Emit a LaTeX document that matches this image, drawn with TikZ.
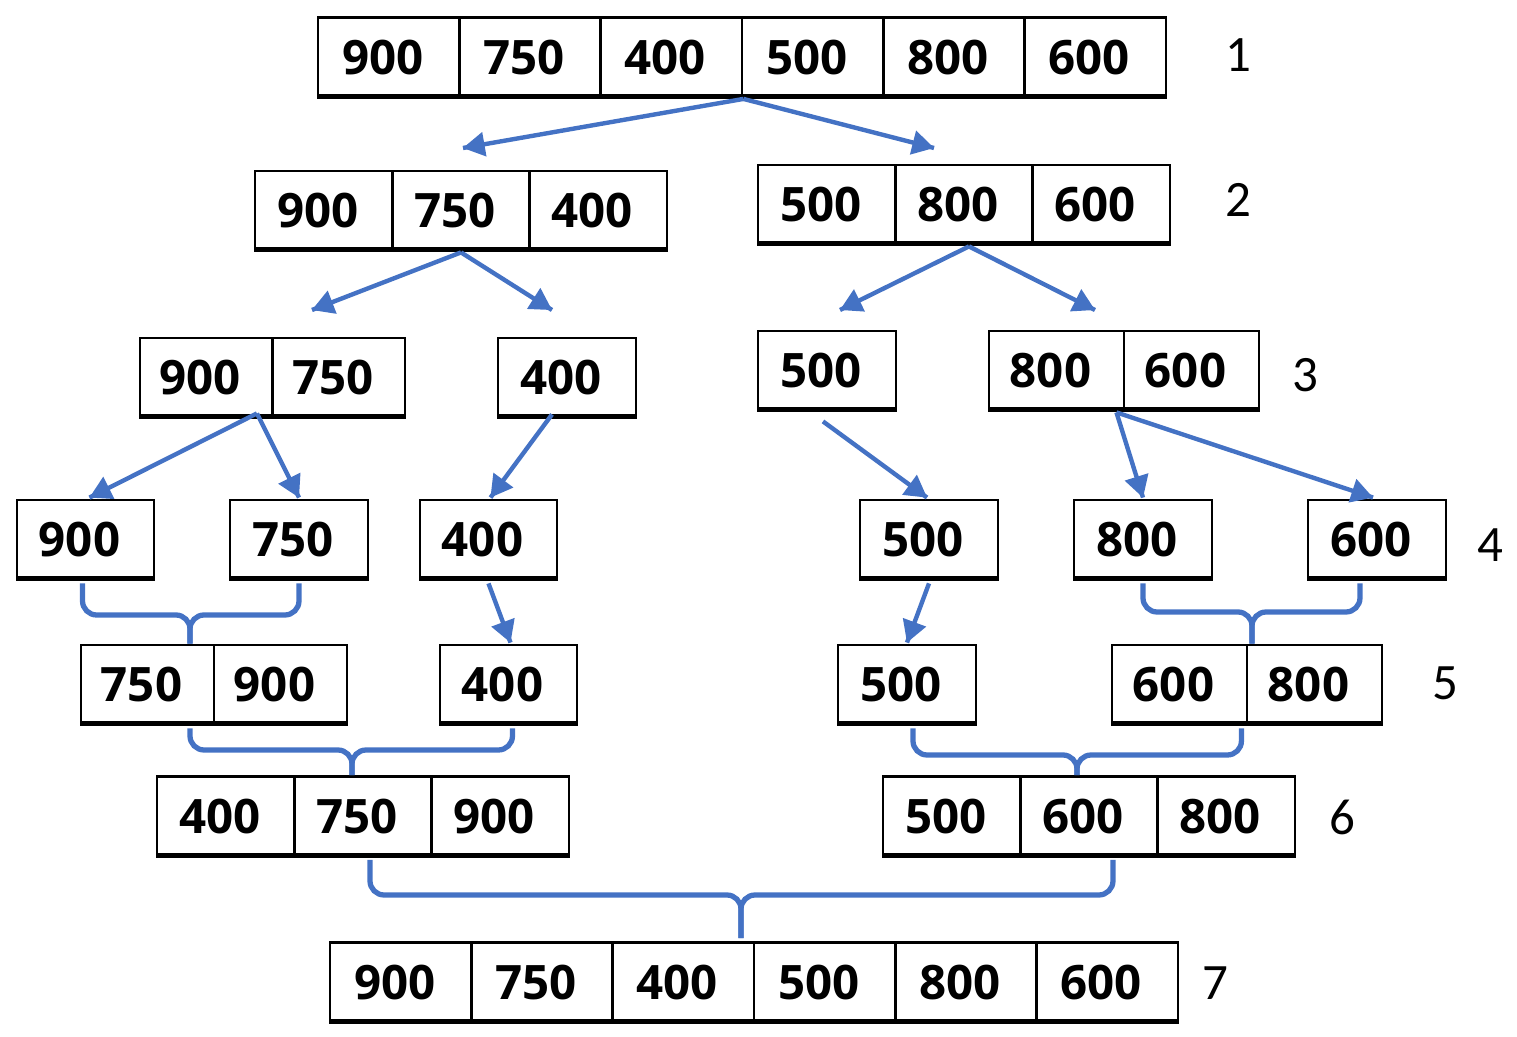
\documentclass[tikz,border=0pt]{standalone}
\usepackage{fontspec}
\setmainfont{Open Sans}
\newfontfamily\levelfont{Carlito}
\usepackage{tikz}
\usetikzlibrary{arrows}
\usetikzlibrary{decorations.markings}
\usetikzlibrary{positioning}
\usetikzlibrary{calc}
\tikzset{->/.style = {decoration={markings,
                                  mark=at position 1 with {\arrow[scale=0.75]{triangle 60}}},
                      postaction={decorate}}}
\tikzset{cell/.style = {draw, line width=0.8pt, inner sep=0pt, minimum height=0.8cm,
                        font=\bfseries\fontsize{13.5}{16}\selectfont,
                        execute at end node={\kern0.12cm},
                        path picture={\draw [line width=2pt]
                          (path picture bounding box.south west) --
                          (path picture bounding box.south east);}}}
\tikzset{split/.style = {mblue, line width=1.25pt}}
\tikzset{merge/.style = {mblue, line width=1.5pt, rounded corners=4pt}}
\tikzset{level/.style = {font=\levelfont\fontsize{14.5}{17}\selectfont}}
\definecolor{mblue}{RGB}{68, 114, 196}

\begin{document}
\begin{tikzpicture}[x=0.01cm, y=-0.01cm]
    \useasboundingbox (0, 0) rectangle (1517, 1037);

    % level 1
    \foreach \v [count=\i] in {900, 750, 400, 500, 800, 600}
      \node [cell, minimum width=1.413cm] (r1-\i) at ({318 + 141.33*(\i - 0.5)}, 57.5) {\v};

    % level 2
    \foreach \v [count=\i] in {900, 750, 400}
      \node [cell, minimum width=1.373cm] (r2a-\i) at ({255 + 137.33*(\i - 0.5)}, 211) {\v};
    \foreach \v [count=\i] in {500, 800, 600}
      \node [cell, minimum width=1.373cm] (r2b-\i) at ({758 + 137.33*(\i - 0.5)}, 205) {\v};

    % level 3
    \foreach \v [count=\i] in {900, 750}
      \node [cell, minimum width=1.325cm] (r3a-\i) at ({140 + 132.5*(\i - 0.5)}, 378) {\v};
    \node [cell, minimum width=1.38cm] (r3b) at (567, 378) {400};
    \node [cell, minimum width=1.38cm] (r3c) at (827, 371) {500};
    \foreach \v [count=\i] in {800, 600}
      \node [cell, minimum width=1.35cm] (r3d-\i) at ({989 + 135*(\i - 0.5)}, 371) {\v};

    % level 4
    \node [cell, minimum width=1.37cm] (r4a) at (85.5, 540) {900};
    \node [cell, minimum width=1.38cm] (r4b) at (299, 540) {750};
    \node [cell, minimum width=1.37cm] (r4c) at (488.5, 540) {400};
    \node [cell, minimum width=1.38cm] (r4d) at (929, 540) {500};
    \node [cell, minimum width=1.38cm] (r4e) at (1143, 540) {800};
    \node [cell, minimum width=1.38cm] (r4f) at (1377, 540) {600};

    % level 5
    \foreach \v [count=\i] in {750, 900}
      \node [cell, minimum width=1.33cm] (r5a-\i) at ({81 + 133*(\i - 0.5)}, 685) {\v};
    \node [cell, minimum width=1.37cm] (r5b) at (508.5, 685) {400};
    \node [cell, minimum width=1.38cm] (r5c) at (907, 685) {500};
    \foreach \v [count=\i] in {600, 800}
      \node [cell, minimum width=1.35cm] (r5d-\i) at ({1112 + 135*(\i - 0.5)}, 685) {\v};

    % level 6
    \foreach \v [count=\i] in {400, 750, 900}
      \node [cell, minimum width=1.373cm] (r6a-\i) at ({157 + 137.33*(\i - 0.5)}, 816.5) {\v};
    \foreach \v [count=\i] in {500, 600, 800}
      \node [cell, minimum width=1.373cm] (r6b-\i) at ({883 + 137.33*(\i - 0.5)}, 816.5) {\v};

    % level 7
    \foreach \v [count=\i] in {900, 750, 400, 500, 800, 600}
      \node [cell, minimum width=1.413cm] (r7-\i) at ({330 + 141.33*(\i - 0.5)}, 982.5) {\v};

    % level numbers
    \node [level] (lv1) at (1238, 55) {1};
    \node [level] (lv2) at (1238, 200) {2};
    \node [level] (lv3) at (1305, 375) {3};
    \node [level] (lv4) at (1490, 545) {4};
    \node [level] (lv5) at (1445, 683) {5};
    \node [level] (lv6) at (1342, 817) {6};
    \node [level] (lv7) at (1215, 983) {7};

    % splitting
    \coordinate (t1a) at (463, 148);
    \coordinate (t1b) at (934, 148);
    \coordinate (t2a) at (312, 310);
    \coordinate (t2b) at (552, 310);
    \coordinate (t2c) at (840, 310);
    \coordinate (t2d) at (1095, 310);

    \draw [split, ->] (r1-3.south east) -- (t1a);
    \draw [split, ->] (r1-3.south east) -- (t1b);
    \draw [split, ->] (r2a-2.south) -- (t2a);
    \draw [split, ->] (r2a-2.south) -- (t2b);
    \draw [split, ->] ($(r2b-2.south) + (5, 0)$) -- (t2c);
    \draw [split, ->] ($(r2b-2.south) + (5, 0)$) -- (t2d);
    \draw [split, ->] ($(r3a-1.south east) + (-17, -6)$) -- ($(r4a.north) + (4, -1)$);
    \draw [split, ->] ($(r3a-1.south east) + (-17, -6)$) -- ($(r4b.north) + (0, -1)$);
    \draw [split, ->] ($(r3b.south) + (-15, -5)$) -- ($(r4c.north) + (2, -1)$);
    \draw [split, ->] ($(r3c.south) + (-4, 9)$) -- ($(r4d.north) + (-2, -1)$);
    \draw [split, ->] ($(r3d-1.south east) + (-9, 0)$) -- ($(r4e.north) + (0, -1)$);
    \draw [split, ->] ($(r3d-1.south east) + (-9, 0)$) -- ($(r4f.north) + (-4, -1)$);
    \draw [split, ->] ($(r4c.south) + (0, 2)$) -- ($(r5b.north) + (2, -1)$);
    \draw [split, ->] ($(r4d.south) + (0, 2)$) -- ($(r5c.north) + (0, -1)$);

    % merging
    \coordinate (j1) at (190, 615);
    \coordinate (j2) at (1252, 612);
    \coordinate (j3) at (352, 750);
    \coordinate (j4) at (1077, 755);
    \coordinate (j5) at (741, 895);

    \draw [merge] ($(r4a.south) + (-3, 2)$) |- (j1) -- (j1 |- r5a-1.north);
    \draw [merge] ($(r4b.south) + (0, 2)$) |- (j1) -- (j1 |- r5a-1.north);
    \draw [merge] ($(r4e.south) + (0, 2)$) |- (j2) -- (j2 |- r5d-1.north);
    \draw [merge] ($(r4f.south) + (-17, 2)$) |- (j2) -- (j2 |- r5d-1.north);
    \draw [merge] ($(j1 |- r5a-1.south) + (0, 2)$) |- (j3) -- (j3 |- r6a-1.north);
    \draw [merge] ($(r5b.south) + (4, 2)$) |- (j3) -- (j3 |- r6a-1.north);
    \draw [merge] ($(r5c.south) + (6, 2)$) |- (j4) -- (j4 |- r6b-1.north);
    \draw [merge] ($(r5d-1.south east) + (-7, 2)$) |- (j4) -- (j4 |- r6b-1.north);
    \draw [merge] ($(r6a-2.south) + (7, 2)$) |- (j5) -- ($(j5 |- r7-3.north) + (0, -3)$);
    \draw [merge] ($(r6b-2.south) + (24, 2)$) |- (j5) -- ($(j5 |- r7-3.north) + (0, -3)$);
\end{tikzpicture}
\end{document}
